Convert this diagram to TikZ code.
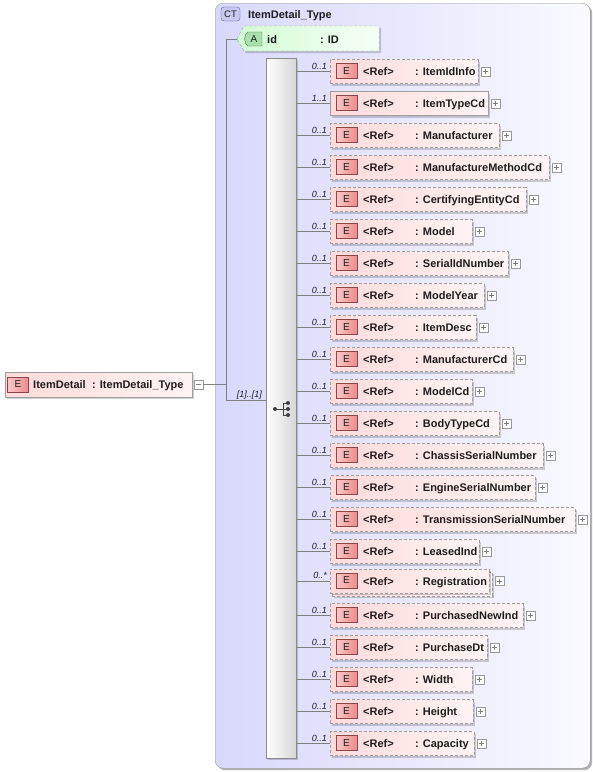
\documentclass[tikz,border=0pt]{standalone}
\usepackage{fontspec}
\setmainfont{Liberation Sans}
\usetikzlibrary{shadows}
\definecolor{ctL}{RGB}{216,216,252}
\definecolor{ctR}{RGB}{250,250,255}
\definecolor{elL}{RGB}{255,218,218}
\definecolor{elR}{RGB}{255,244,244}
\definecolor{atL}{RGB}{210,252,210}
\definecolor{atR}{RGB}{246,255,246}
\definecolor{ebL}{RGB}{250,200,200}
\definecolor{ebR}{RGB}{238,140,140}
\definecolor{ebD}{RGB}{140,70,70}
\definecolor{abF}{RGB}{170,225,170}
\definecolor{abD}{RGB}{60,120,60}
\definecolor{ctbF}{RGB}{200,200,240}
\definecolor{ctbD}{RGB}{90,90,150}
\definecolor{txt}{RGB}{30,30,30}
\tikzset{
  nm/.style={font=\fontsize{11}{13}\selectfont\bfseries, text=txt, inner sep=0pt, anchor=base west},
  mult/.style={font=\fontsize{9}{10}\selectfont\itshape, text=txt, inner sep=0pt, anchor=base east},
  shad/.style={drop shadow={shadow xshift=2pt,shadow yshift=-2pt,fill=black,opacity=0.18}},
  elbox/.style={draw=black!38, left color=elL, right color=elR, dash pattern=on 3pt off 2pt, inner sep=0pt, shad},
  req/.style={solid},
  opt/.style={},
  ebadge/.style={draw=ebD, left color=ebL, right color=ebR, minimum width=21pt, minimum height=15pt, inner sep=0pt, font=\fontsize{10}{12}\selectfont, text=txt},
  expbox/.style={draw=black!40, fill=white, minimum width=9pt, minimum height=9pt, inner sep=0pt},
  expline/.style={draw=black!50, line width=0.6pt},
  conn/.style={draw=black!50, line width=0.6pt},
  seqbox/.style={draw=black!45, left color=white, right color=black!16, inner sep=0pt, shad},
  ctbox/.style={draw=black!40, left color=ctL, right color=ctR, rounded corners=8pt, inner sep=0pt, drop shadow={shadow xshift=2pt,shadow yshift=-2pt,fill=black,opacity=0.3}},
  ctbadge/.style={draw=ctbD, fill=ctbF, rounded corners=3pt, minimum width=19pt, minimum height=14pt, inner sep=0pt, font=\fontsize{9.5}{11}\selectfont, text=txt},
  seqsym/.style={draw=black!75, line width=0.9pt},
}
\begin{document}
\begin{tikzpicture}[x=1pt,y=-1pt]
\useasboundingbox (0,0) rectangle (593,772);
% complex type box
\node[ctbox, minimum width=375pt, minimum height=765pt, anchor=north west] (ct) at (215,3) {};
\node[ctbadge] (ctb) at (230.5,14) {CT};
\node[nm] (ctt) at (248,18) {ItemDetail\_Type};
% top element
\node[elbox, solid, minimum width=187pt, minimum height=25pt, anchor=west] (top) at (5,384.5) {};
\node[ebadge] (topb) at (18,384.5) {E};
\node[nm] (topn) at (33,388.5) {ItemDetail};
\node[nm] (topt) at (92,388.5) {: ItemDetail\_Type};
\node[expbox] (xtop) at (198.5,384.5) {};
\draw[expline] (xtop.center) +(-2.5,0) -- +(2.5,0);
% attribute
\coordinate (attrpt) at (237,39);
\path[draw=black!38, left color=atL, right color=atR, dash pattern=on 3pt off 2pt, shad]
  (attrpt) -- (244,26) -- (379,26) -- (379,51) -- (244,51) -- cycle;
\path[draw=abD, fill=abF] (262,32) -- (248,32) .. controls (243.5,34) and (243.5,44) .. (248,46) -- (262,46) -- cycle;
\node[inner sep=0pt, font=\fontsize{10}{12}\selectfont, text=txt] (ab) at (254,39) {A};
\node[nm] (attrn) at (267,43) {id};
\node[nm] (attrt) at (320,43) {: ID};
% sequence compositor
\node[seqbox, minimum width=30pt, minimum height=700pt, anchor=north west] (seq) at (266,58) {};
\draw[seqsym] (275,409) -- (283,409) (283,403) -- (283,415)
  (283,403) -- (288,403) (283,409) -- (288,409) (283,415) -- (288,415);
\fill[black!75] (275,409) circle (2) (288,403) circle (2) (288,409) circle (2) (288,415) circle (2);
% connectors to compositor and attribute
\coordinate (j0) at (226,39);
\coordinate (j1) at (226,384.5);
\coordinate (j2) at (226,400);
\draw[conn] (xtop.east) -- (j1);
\draw[conn] (attrpt) -- (j0) -- (j2) -- (seq.west |- j2);
\node[mult] (card) at (262,397) {[1]..[1]};
% stacked back box for Registration
\node[elbox, minimum width=160pt, minimum height=24pt, anchor=west] (e17b) at (332,584) {};
% child elements
\foreach \en/\y/\r/\px/\m/\s [count=\i] in {
  ItemIdInfo/71.5/478/485.5/0..1/opt,
  ItemTypeCd/103.5/488/495.5/1..1/req,
  Manufacturer/135.5/499/506.5/0..1/opt,
  ManufactureMethodCd/167.5/549/556.5/0..1/opt,
  CertifyingEntityCd/199.5/526/533.5/0..1/opt,
  Model/231.5/472/479.5/0..1/opt,
  SerialIdNumber/263.5/508/515.5/0..1/opt,
  ModelYear/295.5/484/491.5/0..1/opt,
  ItemDesc/327.5/476/483.5/0..1/opt,
  ManufacturerCd/359.5/513/520.5/0..1/opt,
  ModelCd/391.5/472/479.5/0..1/opt,
  BodyTypeCd/423.5/499/506.5/0..1/opt,
  ChassisSerialNumber/455.5/543/550.5/0..1/opt,
  EngineSerialNumber/487.5/535/542.5/0..1/opt,
  TransmissionSerialNumber/519.5/575/582.5/0..1/opt,
  LeasedInd/551.5/479/486.5/0..1/opt,
  Registration/581/489/499.5/0..*/opt,
  PurchasedNewInd/615.5/523/530.5/0..1/opt,
  PurchaseDt/647.5/487/494.5/0..1/opt,
  Width/679.5/472/479.5/0..1/opt,
  Height/711.5/473/480.5/0..1/opt,
  Capacity/743.5/474/481.5/0..1/opt}{
  \node[elbox, \s, minimum width=\r pt-330pt, minimum height=24pt, anchor=west] (e\i) at (330,\y) {};
  \node[ebadge] (b\i) at (346.5,\y-0.5) {E};
  \node[nm] (r\i) at (363,\y+4) {<Ref>};
  \node[nm] (t\i) at (415,\y+4) {: \en};
  \node[mult] (m\i) at (327,\y-2.5) {\m};
  \node[expbox] (x\i) at (\px,\y) {};
  \draw[expline] (x\i.center) +(-2.5,0) -- +(2.5,0) (x\i.center) +(0,-2.5) -- +(0,2.5);
  \draw[conn] (seq.east |- e\i.west) -- (e\i.west);
}
\end{tikzpicture}
\end{document}
